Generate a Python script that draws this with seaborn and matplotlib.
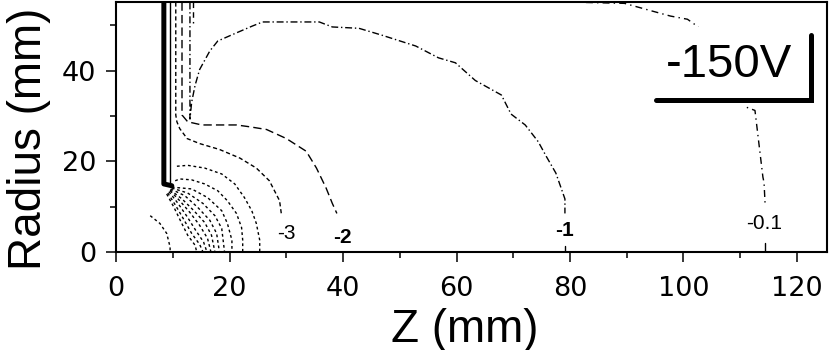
import matplotlib
matplotlib.use("Agg")
import matplotlib.pyplot as plt
import pandas as pd
import seaborn as sns
from matplotlib.patches import Rectangle
from matplotlib.ticker import MultipleLocator

sns.set_theme(style="ticks")
plt.rcParams["font.family"] = ["DejaVu Sans"]
plt.rcParams["text.color"] = "black"

# electrode (-150 V), Z / R in mm
electrode_z = [8.4, 8.4, 9.8]
electrode_r = [55.0, 15.0, 14.6]
inner_wall_z = [9.5, 9.5]
inner_wall_r = [55.0, 15.0]
outer_stub_z = [13.5, 13.5]
outer_stub_r = [55.0, 50.4]

# labelled equipotentials (V)
c3_z = [10.5, 10.5, 10.7, 11.2, 12.5, 14.7, 18.2, 21.8, 24.7, 27.0, 28.8, 29.1]
c3_r = [55.0, 30.2, 28.7, 27.2, 25.0, 23.9, 22.6, 20.7, 18.5, 15.7, 11.3, 8.5]
c2_z = [11.6, 11.6, 12.6, 15.1, 17.0, 21.2, 23.5, 26.5, 30.0, 33.5, 35.3, 37.0, 38.1, 38.9]
c2_r = [55.0, 30.2, 28.7, 28.0, 28.0, 28.0, 27.6, 27.0, 25.0, 22.2, 18.5, 14.1, 10.7, 8.5]
c1_z = [13.0, 13.0, 13.3, 13.9, 14.7, 16.5, 17.9, 21.2, 24.0, 25.8, 35.8, 38.1, 42.8,
        46.8, 52.8, 56.8, 59.8, 63.3, 67.9, 69.6, 72.1, 74.4, 75.8, 77.5, 79.1, 79.1]
c1_r = [55.0, 29.3, 33.0, 36.7, 40.2, 44.3, 46.5, 48.3, 49.8, 50.7, 50.7, 49.6, 49.3,
        47.8, 45.4, 42.8, 41.7, 37.8, 34.6, 30.4, 28.0, 24.3, 21.1, 17.4, 11.7, 8.5]
c1_tail_z = [79.1, 79.1]
c1_tail_r = [1.3, 0.0]
c01_z = [82.8, 89.6, 94.2, 97.7, 100.7, 102.5, 106.8, 110.9, 112.6, 114.0, 114.2, 114.4]
c01_r = [55.0, 54.8, 53.2, 52.0, 51.3, 49.7, 41.0, 32.0, 31.2, 16.5, 15.3, 10.2]
c01_tail_z = [114.4, 114.4]
c01_tail_r = [2.0, 0.0]

# unlabelled equipotentials round the electrode tip
arc_left_z = [6.0, 7.7, 8.9, 9.5, 9.5]
arc_left_r = [8.0, 6.3, 4.1, 1.1, 0.0]
arc1_z = [10.7, 12.6, 15.6, 18.6, 20.9, 22.6, 23.9, 24.7, 25.3, 25.3]
arc1_r = [18.9, 19.1, 18.5, 17.2, 15.0, 12.0, 9.1, 6.3, 2.6, 0.0]
arc2_z = [10.4, 11.2, 13.3, 15.6, 17.9, 19.6, 21.2, 22.1, 22.3, 22.3]
arc2_r = [15.7, 16.1, 15.9, 15.0, 13.5, 11.3, 8.5, 5.4, 2.6, 0.0]
arc3_z = [9.8, 13.3, 16.1, 18.6, 19.6, 20.4, 20.4]
arc3_r = [14.3, 13.9, 12.0, 9.1, 6.3, 2.6, 0.0]
arc4_z = [9.8, 12.6, 15.3, 17.4, 18.6, 19.1]
arc4_r = [14.1, 13.0, 10.7, 8.0, 5.2, 0.0]
arc5_z = [9.6, 12.1, 14.4, 16.5, 17.7, 18.2]
arc5_r = [13.9, 12.4, 9.8, 7.0, 4.1, 0.0]
arc6_z = [9.5, 11.6, 13.7, 15.6, 16.8, 17.4]
arc6_r = [13.7, 11.7, 9.1, 6.5, 3.7, 0.0]
arc7_z = [9.5, 11.2, 13.0, 14.7, 16.1, 16.7]
arc7_r = [13.5, 11.3, 8.7, 5.9, 3.0, 0.0]
arc8_z = [9.3, 10.9, 12.5, 14.0, 15.4, 16.0]
arc8_r = [13.3, 10.7, 7.8, 4.8, 2.2, 0.0]
arc9_z = [9.1, 10.5, 11.9, 13.3, 14.7, 15.3]
arc9_r = [13.0, 10.2, 7.2, 4.1, 1.7, 0.0]
arc10_z = [8.9, 10.2, 11.4, 12.6, 13.9, 14.2]
arc10_r = [12.8, 9.8, 6.7, 3.7, 1.5, 0.0]

contour_labels = ["-3", "-2", "-1", "-0.1"]
label_z = [30.0, 39.8, 79.1, 114.2]
label_r = [4.1, 3.3, 4.8, 6.3]
label_bold = [False, True, True, False]

ARIAL = ["Liberation Sans", "DejaVu Sans"]


def draw(ax, z, r, lw=1.0, ls="-"):
    sns.lineplot(x=z, y=r, sort=False, estimator=None, color="black",
                 linewidth=lw, linestyle=ls, ax=ax)


fig = plt.figure(figsize=(8.3, 3.5), dpi=100)
ax = fig.add_axes([0.14, 0.28, 0.8564, 0.7143])

draw(ax, electrode_z, electrode_r, lw=3.6)
draw(ax, inner_wall_z, inner_wall_r, lw=1.0)
draw(ax, outer_stub_z, outer_stub_r, lw=1.0, ls=(0, (4, 3)))

draw(ax, c3_z, c3_r, ls=(0, (3, 2)))
draw(ax, c2_z, c2_r, ls=(0, (6, 3)))
draw(ax, c1_z, c1_r, ls=(0, (5, 2, 1, 2)))
draw(ax, c1_tail_z, c1_tail_r)
draw(ax, c01_z, c01_r, ls=(0, (5, 3, 1, 3)))
draw(ax, c01_tail_z, c01_tail_r)

for z, r in [(arc_left_z, arc_left_r), (arc1_z, arc1_r), (arc2_z, arc2_r),
             (arc3_z, arc3_r), (arc4_z, arc4_r), (arc5_z, arc5_r),
             (arc6_z, arc6_r), (arc7_z, arc7_r), (arc8_z, arc8_r),
             (arc9_z, arc9_r), (arc10_z, arc10_r)]:
    draw(ax, z, r, ls=(0, (2, 2)))

for txt, z, r, b in zip(contour_labels, label_z, label_r, label_bold):
    ax.text(z, r, txt, ha="center", va="center", fontsize=15, color="black",
            fontweight="bold" if b else "normal", family=ARIAL)

# voltage tag with its white box and L-shaped bar
ax.add_patch(Rectangle((94.5, 32.5), 30.0, 17.0, facecolor="white",
                       edgecolor="none", zorder=5))
ax.plot([95.1, 122.4, 122.4], [33.6, 33.6, 47.8], color="black", lw=3.6,
        solid_joinstyle="miter", zorder=6)
ax.text(108.0, 41.3, "-150V", ha="center", va="center", fontsize=34,
        color="black", family=ARIAL, zorder=7)

ax.set_xlim(0, 125.3)
ax.set_ylim(0, 55.1)
ax.xaxis.set_major_locator(MultipleLocator(20))
ax.xaxis.set_minor_locator(MultipleLocator(10))
ax.yaxis.set_major_locator(MultipleLocator(20))
ax.yaxis.set_minor_locator(MultipleLocator(10))
ax.tick_params(which="major", direction="out", length=7.5, width=1.1,
               labelsize=19.5, pad=7, color="black", labelcolor="black")
ax.tick_params(axis="x", which="major", pad=10)
ax.tick_params(which="minor", direction="out", length=4, width=1.1, color="black")
for s in ax.spines.values():
    s.set_linewidth(1.5)
    s.set_color("black")
    s.set_visible(True)

ax.set_xlabel("Z (mm)", fontsize=33, family=ARIAL, color="black")
ax.set_ylabel("Radius (mm)", fontsize=33, family=ARIAL, color="black")
ax.yaxis.set_label_coords(-0.092, 0.452)
ax.xaxis.set_label_coords(0.49, -0.222)

fig.savefig("out.png", dpi=100, facecolor="white")
